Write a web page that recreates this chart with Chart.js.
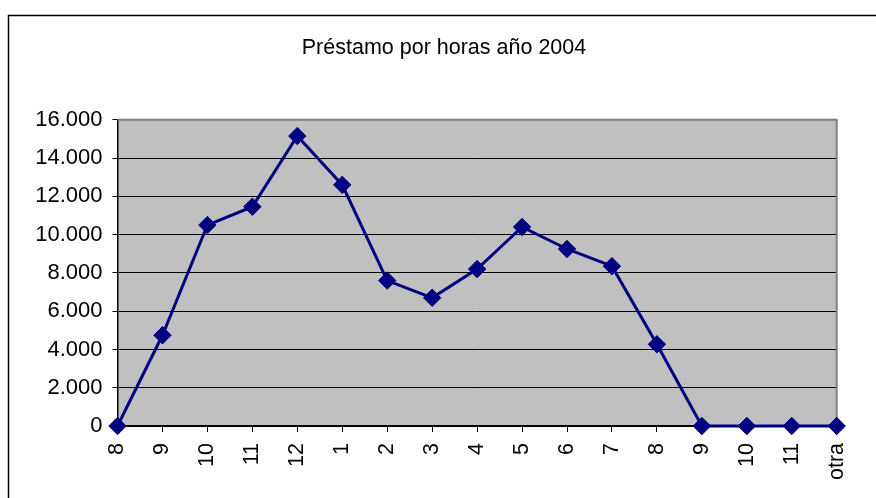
<!DOCTYPE html>
<html>
<head>
<meta charset="utf-8">
<script src="https://cdn.jsdelivr.net/npm/chart.js@4"></script>
<style>
  html, body { margin: 0; padding: 0; background: #fff; }
  #wrap { width: 876px; height: 498px; }
</style>
</head>
<body>
<div id="wrap"><canvas id="chart" width="876" height="498"></canvas></div>
<script>
const title = "Préstamo por horas año 2004";
const hours = ["8", "9", "10", "11", "12", "1", "2", "3", "4", "5", "6", "7", "8", "9", "10", "11", "otra"];
const loans = [0, 4740, 10500, 11460, 15150, 12600, 7600, 6700, 8200, 10400, 9250, 8350, 4270, 0, 0, 0, 0];
const yTicks = [0, 2000, 4000, 6000, 8000, 10000, 12000, 14000, 16000];

const FONT = "'Liberation Sans', Arial, sans-serif";

const formatNum = v => String(v).replace(/\B(?=(\d{3})+(?!\d))/g, ".");

// grey plot background, grey top/right frame, outer chart frame
const frame = {
    id: "frame",
    beforeDraw(chart) {
        const ctx = chart.ctx;
        const a = chart.chartArea;
        ctx.save();
        ctx.fillStyle = "#fff";
        ctx.fillRect(0, 0, chart.width, chart.height);
        ctx.strokeStyle = "#000";
        ctx.lineWidth = 1.5;
        ctx.strokeRect(8.5, 15.5, chart.width + 20, chart.height + 20);
        ctx.fillStyle = "#c0c0c0";
        ctx.fillRect(a.left, a.top, a.right - a.left, a.bottom - a.top);
        ctx.restore();
    },
    beforeDatasetsDraw(chart) {
        const ctx = chart.ctx;
        const a = chart.chartArea;
        ctx.save();
        ctx.strokeStyle = "#808080";
        ctx.lineWidth = 2;
        ctx.beginPath();
        ctx.moveTo(a.left, a.top);
        ctx.lineTo(a.right, a.top);
        ctx.lineTo(a.right, a.bottom);
        ctx.stroke();
        ctx.restore();
    }
};

new Chart(document.getElementById("chart"), {
    type: "line",
    data: {
        labels: hours,
        datasets: [{
            label: title,
            data: loans,
            borderColor: "#000080",
            backgroundColor: "#000080",
            borderWidth: 3,
            pointStyle: "rectRot",
            pointRadius: 8.7,
            pointHoverRadius: 8.7,
            pointBorderWidth: 1,
            pointBackgroundColor: "#000080",
            pointBorderColor: "#000080",
            tension: 0,
            clip: false
        }]
    },
    options: {
        responsive: false,
        animation: false,
        devicePixelRatio: 1,
        layout: { padding: { left: 12, right: 0, top: 0, bottom: 0 } },
        plugins: {
            legend: { display: false },
            tooltip: { enabled: false },
            title: {
                display: true,
                text: title,
                color: "#000",
                font: { family: FONT, size: 21.5, weight: "normal" },
                padding: { top: 35, bottom: 59 }
            }
        },
        scales: {
            x: {
                offset: false,
                grid: {
                    drawOnChartArea: false,
                    drawTicks: true,
                    tickLength: 6,
                    color: "#000",
                    offset: false
                },
                border: { display: true, color: "#000", width: 2 },
                ticks: {
                    autoSkip: false,
                    maxRotation: 90,
                    minRotation: 90,
                    padding: 11,
                    color: "#000",
                    font: { family: FONT, size: 21.5 }
                },
                afterFit: s => { s.height = 72; }
            },
            y: {
                min: 0,
                max: 16000,
                afterBuildTicks: s => { s.ticks = yTicks.map(v => ({ value: v })); },
                grid: {
                    color: "#000",
                    lineWidth: 1,
                    tickLength: 5,
                    drawTicks: true
                },
                border: { display: true, color: "#000", width: 1.5 },
                ticks: {
                    padding: 10,
                    color: "#000",
                    font: { family: FONT, size: 22 },
                    callback: v => formatNum(v)
                },
                afterFit: s => { s.width = 105.5; }
            },
            pad: {
                position: "right",
                display: true,
                grid: { display: false, drawTicks: false },
                border: { display: false },
                ticks: { display: false },
                afterFit: s => { s.width = 39.3; }
            }
        }
    },
    plugins: [frame]
});
</script>
</body>
</html>
